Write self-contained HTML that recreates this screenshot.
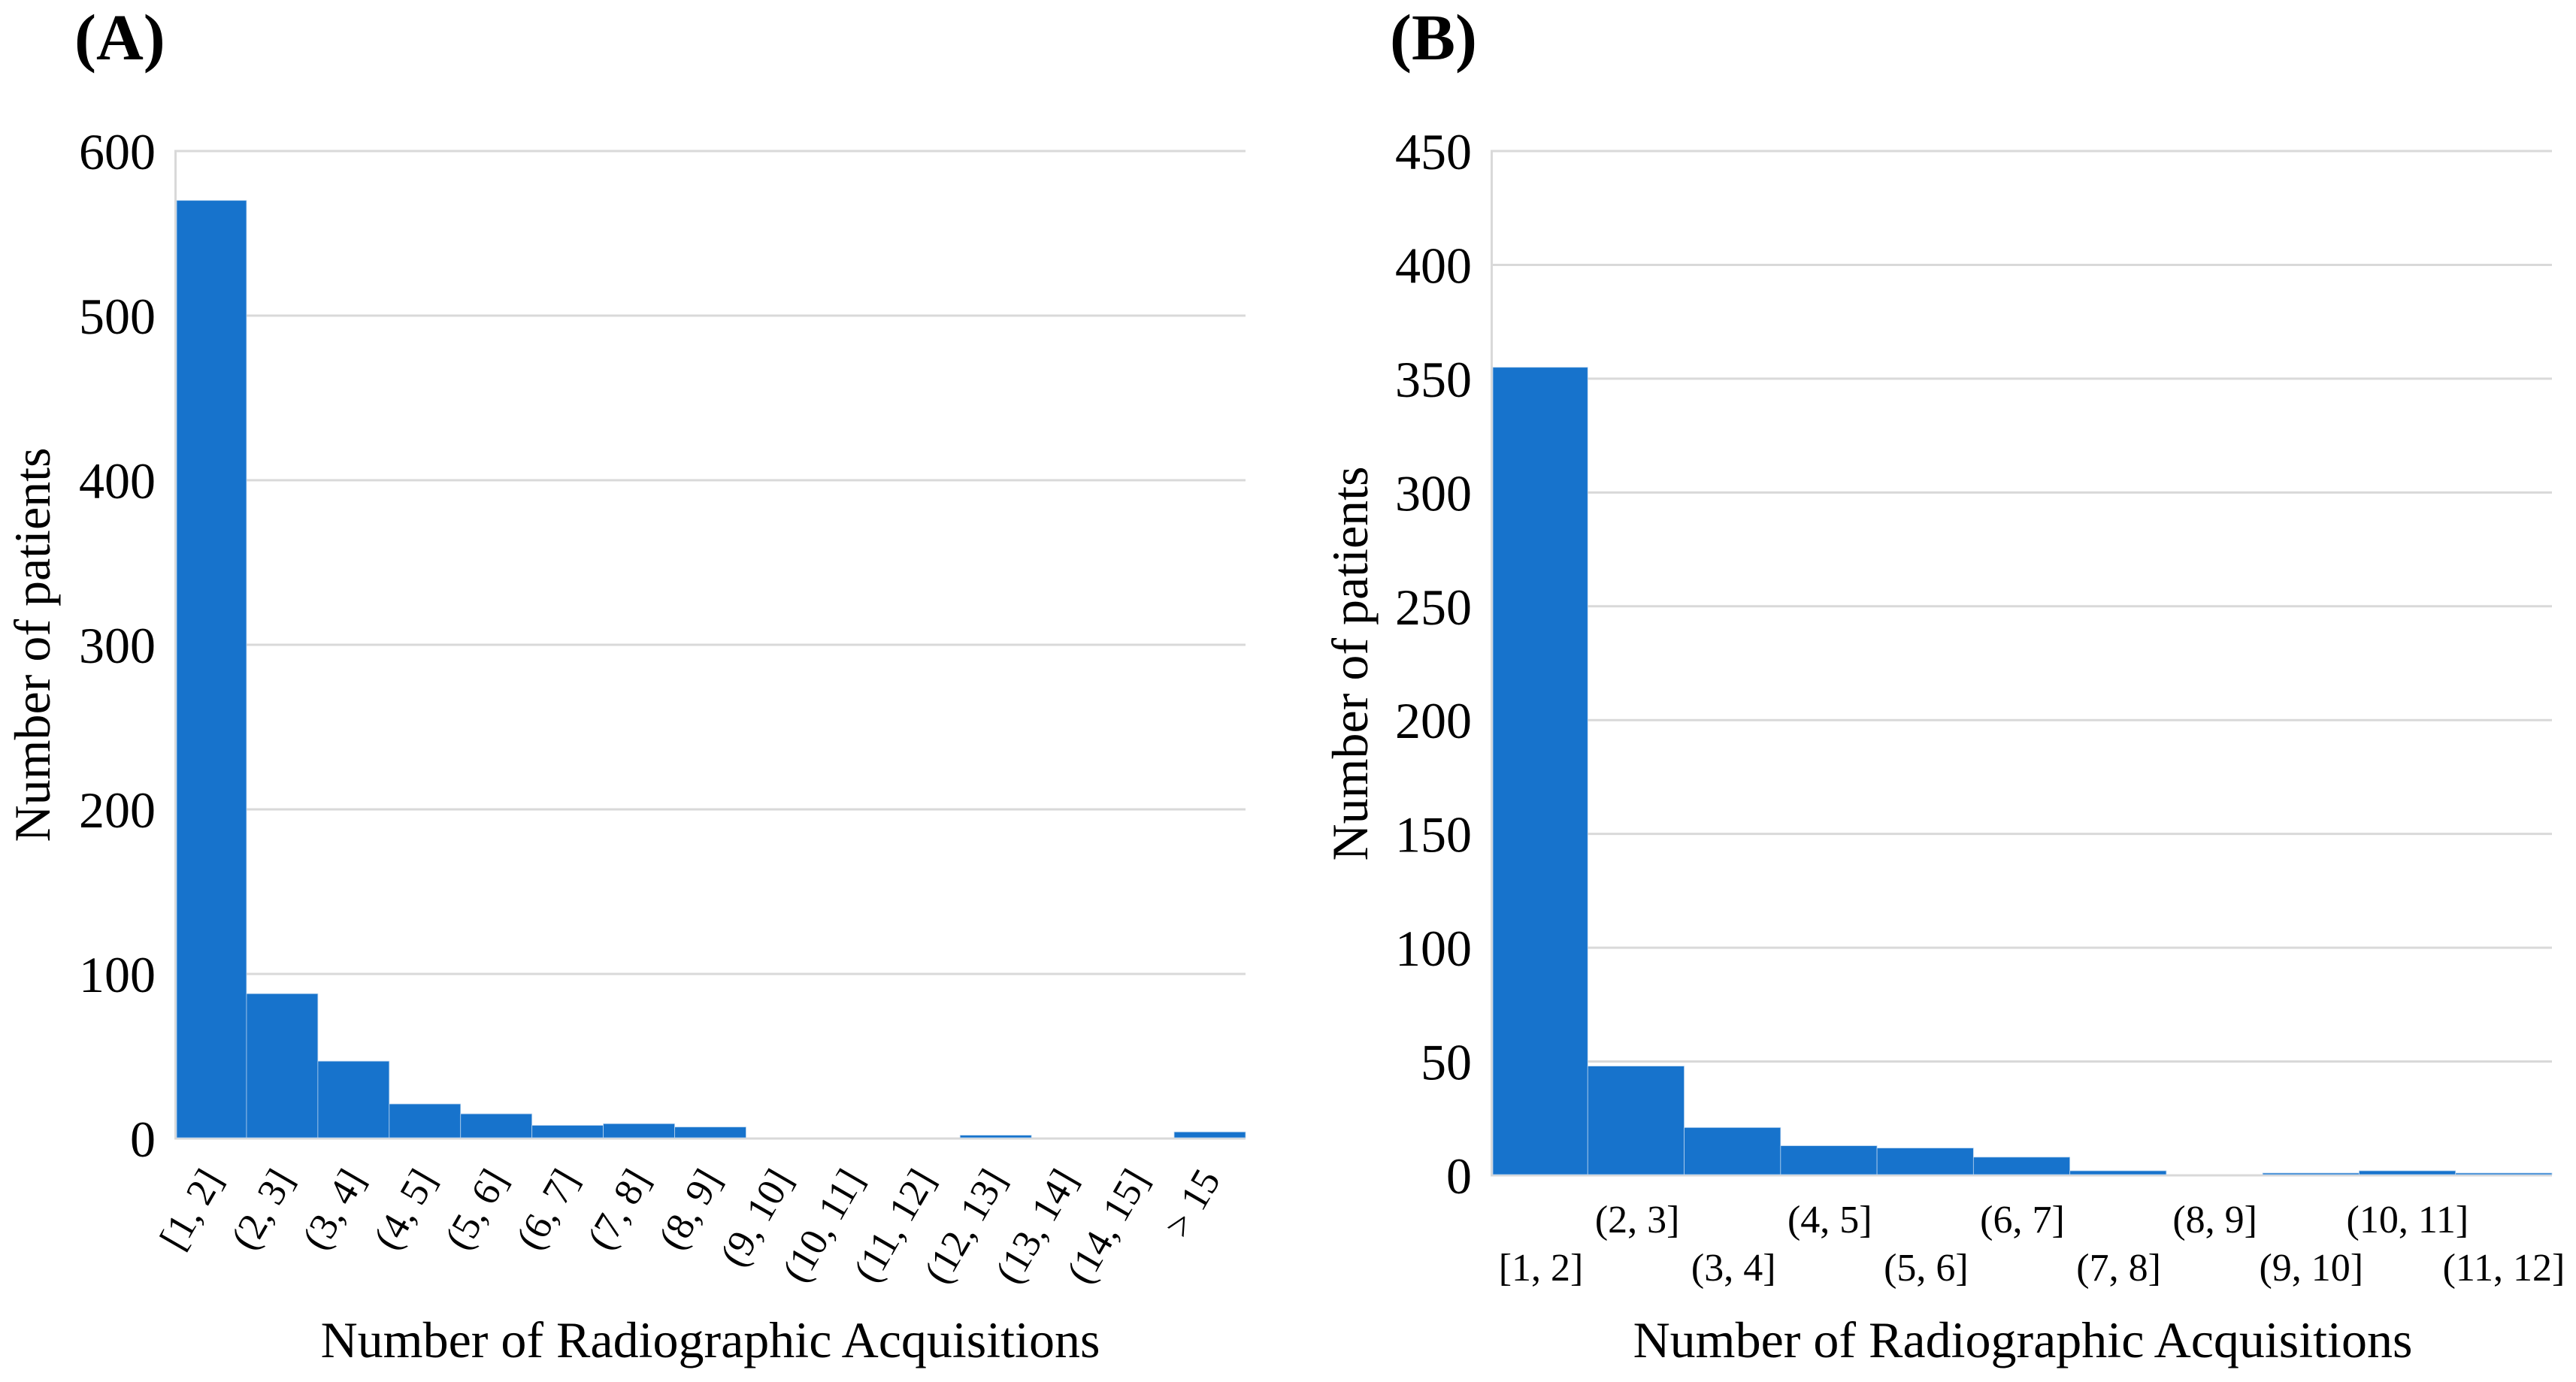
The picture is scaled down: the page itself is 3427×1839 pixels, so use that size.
<!DOCTYPE html>
<html lang="en">
<head>
<meta charset="utf-8">
<title>Radiographic acquisitions histograms</title>
<style>
  html, body { margin: 0; padding: 0; background: #fff; }
  svg { display: block; font-family: "Liberation Serif", serif; }
  text { fill: #000; }
</style>
</head>
<body>
<svg id="figure" xmlns="http://www.w3.org/2000/svg" width="3427" height="1839" viewBox="0 0 3427 1839">
  <rect x="0" y="0" width="3427" height="1839" fill="#ffffff"/>
  <text x="99" y="79" font-size="87" font-weight="bold">(A)</text>
  <text x="1849" y="79" font-size="87" font-weight="bold">(B)</text>
  <g id="panel-a"></g>
  <g id="panel-b"></g>
  <text x="945" y="1806" font-size="68" text-anchor="middle">Number of Radiographic Acquisitions</text>
  <text x="2691" y="1806" font-size="68" text-anchor="middle">Number of Radiographic Acquisitions</text>
  <text transform="translate(66 858) rotate(-90)" font-size="68" text-anchor="middle">Number of patients</text>
  <text transform="translate(1819 883) rotate(-90)" font-size="68" text-anchor="middle">Number of patients</text>
</svg>
<script>
const categoriesA = ["[1, 2]", "(2, 3]", "(3, 4]", "(4, 5]", "(5, 6]", "(6, 7]", "(7, 8]", "(8, 9]", "(9, 10]", "(10, 11]", "(11, 12]", "(12, 13]", "(13, 14]", "(14, 15]", "> 15"];
const valuesA = [570, 88, 47, 21, 15, 8, 9, 7, 0, 0, 0, 2, 0, 0, 4];
const ticksA = [0, 100, 200, 300, 400, 500, 600];

const categoriesB = ["[1, 2]", "(2, 3]", "(3, 4]", "(4, 5]", "(5, 6]", "(6, 7]", "(7, 8]", "(8, 9]", "(9, 10]", "(10, 11]", "(11, 12]"];
const valuesB = [355, 48, 21, 13, 12, 8, 2, 0, 1, 2, 1];
const ticksB = [0, 50, 100, 150, 200, 250, 300, 350, 400, 450];

const SVG_NS = "http://www.w3.org/2000/svg";
const BAR_COLOR = "#1773cc";
const GRID_COLOR = "#d9d9d9";

function make(tag, parent) {
  const el = document.createElementNS(SVG_NS, tag);
  parent.appendChild(el);
  return el;
}

function drawChart(group, categories, values, ticks, box, labelMode) {
  const maxTick = ticks[ticks.length - 1];
  const yScale = function (v) { return box.bottom - (v / maxTick) * (box.bottom - box.top); };
  const band = (box.right - box.left) / categories.length;
  const xScale = function (i) { return box.left + i * band; };
  const barBand = (box.right - box.barStart) / categories.length;
  const barX = function (i) { return box.barStart + i * barBand; };

  ticks.forEach(function (t) {
    const line = make("line", group);
    
    
    line.setAttribute("x1", box.left - 3);
    line.setAttribute("x2", box.right);
    line.setAttribute("y1", yScale(t));
    line.setAttribute("y2", yScale(t));
    line.setAttribute("stroke", GRID_COLOR);
    line.setAttribute("stroke-width", 3);

    const label = make("text", group);
    
    
    label.setAttribute("x", box.left - 28);
    label.setAttribute("y", yScale(t) + 24);
    label.setAttribute("font-size", 68);
    label.setAttribute("text-anchor", "end");
    label.textContent = String(t);
  });

  const axis = make("line", group);
  
  
  axis.setAttribute("x1", box.left - 1.5);
  axis.setAttribute("x2", box.left - 1.5);
  axis.setAttribute("y1", box.top);
  axis.setAttribute("y2", box.bottom);
  axis.setAttribute("stroke", GRID_COLOR);
  axis.setAttribute("stroke-width", 3);

  values.forEach(function (v, i) {
    if (v <= 0) return;
    const x0 = Math.max(barX(i), box.left);
    const x1 = barX(i + 1);
    const bar = make("rect", group);
    
    
    bar.setAttribute("x", x0);
    bar.setAttribute("y", yScale(v));
    bar.setAttribute("width", x1 - x0);
    bar.setAttribute("height", yScale(0) - yScale(v) - 1);
    bar.setAttribute("fill", BAR_COLOR);
    bar.setAttribute("stroke", "#b9d4ee");
    bar.setAttribute("stroke-width", 0.8);
  });

  categories.forEach(function (c, i) {
    const cx = xScale(i) + band / 2;
    const label = make("text", group);
    
    
    label.setAttribute("font-size", 52);
    if (labelMode === "rotated") {
      label.setAttribute("text-anchor", "end");
      label.setAttribute("transform", "translate(" + (cx + 15) + " 1569) rotate(-60)");
    } else {
      label.setAttribute("text-anchor", "middle");
      label.setAttribute("x", cx);
      label.setAttribute("y", i % 2 === 0 ? 1704 : 1640);
    }
    label.textContent = c;
  });
}

drawChart(document.getElementById("panel-a"), categoriesA, valuesA, ticksA,
  { left: 235, barStart: 233, right: 1657, top: 201, bottom: 1515 }, "rotated");
drawChart(document.getElementById("panel-b"), categoriesB, valuesB, ticksB,
  { left: 1986, barStart: 1984, right: 3395, top: 201, bottom: 1564 }, "staggered");
</script>
</body>
</html>
